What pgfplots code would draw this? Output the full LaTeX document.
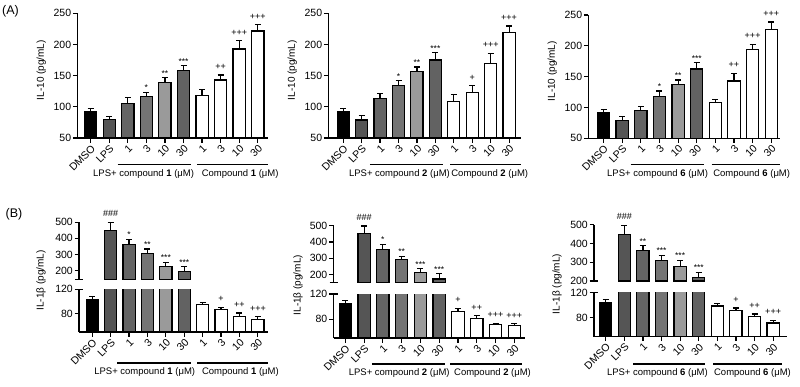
\documentclass[border=0pt]{standalone}
\usepackage{pgfplots}
\pgfplotsset{compat=1.18}
\usepackage{pgfplotstable}
\usepackage{fontspec}
\setmainfont{Liberation Sans}
\definecolor{gA}{HTML}{555555}
\definecolor{gB}{HTML}{646464}
\definecolor{gC}{HTML}{747474}
\definecolor{gD}{HTML}{9A9A9A}
\definecolor{gE}{HTML}{626262}
\newcommand\tk{\fontsize{10.5}{12}\selectfont}
\newcommand\yl{\fontsize{10}{12}\selectfont}
\newcommand\grp{\fontsize{9.5}{11}\selectfont}

\pgfplotstableread{
x y e
0 93 4
1 80 5
2 105 10
3 116 7
4 138.5 8.5
5 158 8
6 118.6 9.4
7 143 8
8 192.6 13.4
9 221.6 10.4
}\tAa
\pgfplotstableread{
x y e
0 93 4
1 79 6.5
2 113 8
3 134 8
4 157 7
5 175 12
6 108 12
7 122.4 11.6
8 169.6 16
9 219 10.6
}\tAb
\pgfplotstableread{
x y e
0 92 5
1 78.6 7.4
2 95.4 5.6
3 117.6 9.2
4 137 7.6
5 162.4 10.3
6 107.8 5.2
7 143 12.4
8 194.3 8.1
9 226.8 11.8
}\tAc
\pgfplotstableread{
x y e
0 102.7 5.3
1 448.6 51.4
2 360 33
3 305 29
4 222.7 28
5 194 28.7
6 94.6 3.8
7 86.5 4.3
8 75 6
9 70 5
}\tBa
\pgfplotstableread{
x y e
0 104 5.3
1 453 45
2 355 31
3 290 22
4 212 23
5 171 33
6 91.7 5.3
7 80.5 4.8
8 71 2.6
9 69.3 3.7
}\tBb
\pgfplotstableread{
x y e
0 104 4.8
1 449 47.5
2 361 27
3 309 28
4 277 33.5
5 219 28
6 98.7 4.3
7 91.7 3.8
8 81.6 4.4
9 71.5 4.2
}\tBc

\pgfplotsset{
  base/.style={scale only axis, anchor=south west, clip mode=individual,
    tick align=outside, major tick length=4.5pt,
    axis line style={line width=1.3pt},
    every tick/.style={black, line width=1.2pt},
    /pgf/number format/assume math mode=true,
    tick label style={font=\tk},
    xtick={0,...,9},
    xticklabels={DMSO,LPS,1,3,10,30,1,3,10,30},
    xticklabel style={rotate=45, anchor=north east, inner sep=1pt},
    yticklabel style={inner sep=1.5pt}},
  full/.style={base, axis lines*=left},
  upper/.style={base, axis x line=none, axis y line*=left},
  barst/.style={ybar, bar width=0.66, bar shift=0pt, draw=black, line width=1.2pt,
    error bars/y dir=plus, error bars/y explicit,
    error bars/error bar style={line width=1.2pt, black},
    error bars/error mark options={rotate=90, mark size=3pt, line width=1.2pt, black}},
  starst/.style={draw=none, nodes near coords, point meta=explicit symbolic,
    nodes near coords style={anchor=base, font=\fontsize{8.5}{10}\selectfont, inner sep=0pt, yshift=1.5pt, black}},
  plusst/.style={draw=none, nodes near coords, point meta=explicit symbolic,
    nodes near coords style={anchor=base, font=\fontsize{9}{10}\selectfont, inner sep=0pt, yshift=5.5pt, black}},
}
\newcommand\drawupper[1]{%
 \addplot[barst, fill=gA, restrict x to domain=0.7:1.3] table[x=x,y=y,y error=e]{#1};
 \addplot[barst, fill=gB, restrict x to domain=1.7:2.3] table[x=x,y=y,y error=e]{#1};
 \addplot[barst, fill=gC, restrict x to domain=2.7:3.3] table[x=x,y=y,y error=e]{#1};
 \addplot[barst, fill=gD, restrict x to domain=3.7:4.3] table[x=x,y=y,y error=e]{#1};
 \addplot[barst, fill=gE, restrict x to domain=4.7:5.3] table[x=x,y=y,y error=e]{#1};
}
\newcommand\drawbars[1]{%
 \addplot[barst, fill=black, restrict x to domain=-0.3:0.3] table[x=x,y=y,y error=e]{#1};
 \drawupper{#1}%
 \addplot[barst, fill=white, restrict x to domain=5.7:9.3] table[x=x,y=y,y error=e]{#1};
}

\begin{document}
\begin{tikzpicture}
\path[use as bounding box] (0pt,0pt) rectangle (800pt,386pt);

% ---------------- A1
\begin{axis}[full, at={(77.3pt,248pt)}, width=190.7pt, height=124.7pt,
  xmin=-0.72, xmax=9.55, ymin=50, ymax=250, ytick={50,100,150,200,250}]
\drawbars{\tAa}
\addplot[starst] table[meta=l]{
x y l
3 123 *
4 147 **
5 166 ***
};
\addplot[plusst] table[meta=l]{
x y l
7 151 ++
8 206 +++
9 232 +++
};
\node[rotate=90, font=\yl] at ([xshift=-36pt]rel axis cs:0,0.544) {IL-10 (pg/mL)};
\draw[line width=1.1pt] ([yshift=-26.5pt]axis cs:1.45,50) -- ([yshift=-26.5pt]axis cs:5.4,50);
\draw[line width=1.1pt] ([yshift=-26.5pt]axis cs:5.75,50) -- ([yshift=-26.5pt]axis cs:9.55,50);
\node[font=\grp] at ([yshift=-36pt]axis cs:2.85,50) {LPS+ compound \textbf{1} (μM)};
\node[font=\grp] at ([yshift=-36pt]axis cs:8.05,50) {Compound \textbf{1} (μM)};
\end{axis}

% ---------------- A2
\begin{axis}[full, at={(328.3pt,248pt)}, width=192.4pt, height=124.7pt,
  xmin=-0.81, xmax=9.63, ymin=50, ymax=250, ytick={50,100,150,200,250}]
\drawbars{\tAb}
\addplot[starst] table[meta=l]{
x y l
3 142 *
4 164 **
5 187 ***
};
\addplot[plusst] table[meta=l]{
x y l
7 134 +
8 185.6 +++
9 229.6 +++
};
\node[rotate=90, font=\yl] at ([xshift=-36pt]rel axis cs:0,0.544) {IL-10 (pg/mL)};
\draw[line width=1.1pt] ([yshift=-26.5pt]axis cs:1.45,50) -- ([yshift=-26.5pt]axis cs:5.4,50);
\draw[line width=1.1pt] ([yshift=-26.5pt]axis cs:5.8,50) -- ([yshift=-26.5pt]axis cs:9.63,50);
\node[font=\grp] at ([yshift=-36pt]axis cs:3.05,50) {LPS+ compound \textbf{2} (μM)};
\node[font=\grp] at ([yshift=-36pt]axis cs:7.95,50) {Compound \textbf{2} (μM)};
\end{axis}

% ---------------- A3
\begin{axis}[full, at={(588.3pt,247.7pt)}, width=191.7pt, height=123.3pt,
  xmin=-0.82, xmax=9.47, ymin=50, ymax=250, ytick={50,100,150,200,250}]
\drawbars{\tAc}
\addplot[starst] table[meta=l]{
x y l
3 126.8 *
4 144.6 **
5 172.7 ***
};
\addplot[plusst] table[meta=l]{
x y l
7 155.4 ++
8 202.4 +++
9 238.6 +++
};
\node[rotate=90, font=\yl] at ([xshift=-36pt]rel axis cs:0,0.544) {IL-10 (pg/mL)};
\draw[line width=1.1pt] ([yshift=-26.5pt]axis cs:1.45,50) -- ([yshift=-26.5pt]axis cs:5.4,50);
\draw[line width=1.1pt] ([yshift=-26.5pt]axis cs:5.8,50) -- ([yshift=-26.5pt]axis cs:9.47,50);
\node[font=\grp] at ([yshift=-36pt]axis cs:2.9,50) {LPS+ compound \textbf{6} (μM)};
\node[font=\grp] at ([yshift=-36pt]axis cs:7.95,50) {Compound \textbf{6} (μM)};
\end{axis}

% ---------------- B1 upper
\begin{axis}[upper, at={(79pt,106.7pt)}, width=189pt, height=57pt,
  xmin=-0.72, xmax=9.55, ymin=145, ymax=500, ytick={200,300,400,500}]
\drawupper{\tBa}
\addplot[plusst] table[meta=l]{
x y l
1 500 \#\#\#
};
\addplot[starst] table[meta=l]{
x y l
2 393 *
3 334 **
4 251 ***
5 222.7 ***
};
\draw[line width=1.3pt] ([xshift=-4pt]rel axis cs:0,0) -- ([xshift=4pt]rel axis cs:0,0);
\end{axis}
% ---------------- B1 lower
\begin{axis}[full, at={(79pt,54pt)}, width=189pt, height=42.7pt,
  xmin=-0.72, xmax=9.55, ymin=50, ymax=120, ytick={80,120}]
\drawbars{\tBa}
\addplot[plusst] table[meta=l]{
x y l
7 90.8 +
8 81 ++
9 75 +++
};
\draw[line width=1.3pt] ([xshift=-4pt]rel axis cs:0,1) -- ([xshift=4pt]rel axis cs:0,1);
\node[rotate=90, font=\yl] at ([xshift=-38pt]rel axis cs:0,1.21) {IL-1β (pg/mL)};
\draw[line width=1.1pt] ([yshift=-31pt]axis cs:1.35,50) -- ([yshift=-31pt]axis cs:5.35,50);
\draw[line width=1.1pt] ([yshift=-31pt]axis cs:5.7,50) -- ([yshift=-31pt]axis cs:9.55,50);
\node[font=\grp] at ([yshift=-40.5pt]axis cs:2.85,50) {LPS+ compound \textbf{1} (μM)};
\node[font=\grp] at ([yshift=-40.5pt]axis cs:8.05,50) {Compound \textbf{1} (μM)};
\end{axis}

% ---------------- B2 upper
\begin{axis}[upper, at={(333.5pt,103.5pt)}, width=191.5pt, height=56.8pt,
  xmin=-0.63, xmax=9.57, ymin=150, ymax=500, ytick={200,300,400,500}]
\drawupper{\tBb}
\addplot[plusst] table[meta=l]{
x y l
1 498 \#\#\#
};
\addplot[starst] table[meta=l]{
x y l
2 386 *
3 312 **
4 235 ***
5 204 ***
};
\draw[line width=1.3pt] ([xshift=-4pt]rel axis cs:0,0) -- ([xshift=4pt]rel axis cs:0,0);
\end{axis}
% ---------------- B2 lower
\begin{axis}[full, at={(333.5pt,48pt)}, width=191.5pt, height=44pt,
  xmin=-0.63, xmax=9.57, ymin=50, ymax=120, ytick={80,120}]
\drawbars{\tBb}
\addplot[plusst] table[meta=l]{
x y l
6 97 +
7 85.3 ++
8 73.6 +++
9 73 +++
};
\draw[line width=1.3pt] ([xshift=-4pt]rel axis cs:0,1) -- ([xshift=4pt]rel axis cs:0,1);
\node[rotate=90, font=\yl] at ([xshift=-35.5pt]rel axis cs:0,1.2) {IL-1β (pg/mL)};
\draw[line width=1.1pt] ([yshift=-26pt]axis cs:1.42,50) -- ([yshift=-26pt]axis cs:5.31,50);
\draw[line width=1.1pt] ([yshift=-26pt]axis cs:5.58,50) -- ([yshift=-26pt]axis cs:9.4,50);
\node[font=\grp] at ([yshift=-35pt]axis cs:2.87,50) {LPS+ compound \textbf{2} (μM)};
\node[font=\grp] at ([yshift=-35pt]axis cs:7.84,50) {Compound \textbf{2} (μM)};
\end{axis}

% ---------------- B3 upper
\begin{axis}[upper, at={(594pt,105pt)}, width=192.7pt, height=56.3pt,
  xmin=-0.63, xmax=9.73, ymin=200, ymax=500, ytick={200,300,400,500}]
\drawupper{\tBc}
\addplot[plusst] table[meta=l]{
x y l
1 496.5 \#\#\#
};
\addplot[starst] table[meta=l]{
x y l
2 388 **
3 337 ***
4 310.5 ***
5 247 ***
};
\draw[line width=1.3pt] ([xshift=-4pt]rel axis cs:0,0) -- ([xshift=4pt]rel axis cs:0,0);
\end{axis}
% ---------------- B3 lower
\begin{axis}[full, at={(594pt,49.5pt)}, width=192.7pt, height=43.8pt,
  xmin=-0.63, xmax=9.73, ymin=50, ymax=120, ytick={80,120}]
\drawbars{\tBc}
\addplot[plusst] table[meta=l]{
x y l
7 95.5 +
8 86 ++
9 75.7 +++
};
\draw[line width=1.3pt] ([xshift=-4pt]rel axis cs:0,1) -- ([xshift=4pt]rel axis cs:0,1);
\node[rotate=90, font=\yl] at ([xshift=-37pt]rel axis cs:0,1.2) {IL-1β (pg/mL)};
\draw[line width=1.1pt] ([yshift=-27.5pt]axis cs:1.48,50) -- ([yshift=-27.5pt]axis cs:5.33,50);
\draw[line width=1.1pt] ([yshift=-27.5pt]axis cs:5.78,50) -- ([yshift=-27.5pt]axis cs:9.46,50);
\node[font=\grp] at ([yshift=-36.5pt]axis cs:2.78,50) {LPS+ compound \textbf{6} (μM)};
\node[font=\grp] at ([yshift=-36.5pt]axis cs:7.89,50) {Compound \textbf{6} (μM)};
\end{axis}

\node[font=\fontsize{12.5}{14}\selectfont] at (10.5pt,375pt) {(A)};
\node[font=\fontsize{12.5}{14}\selectfont] at (14pt,172pt) {(B)};
\end{tikzpicture}
\end{document}
